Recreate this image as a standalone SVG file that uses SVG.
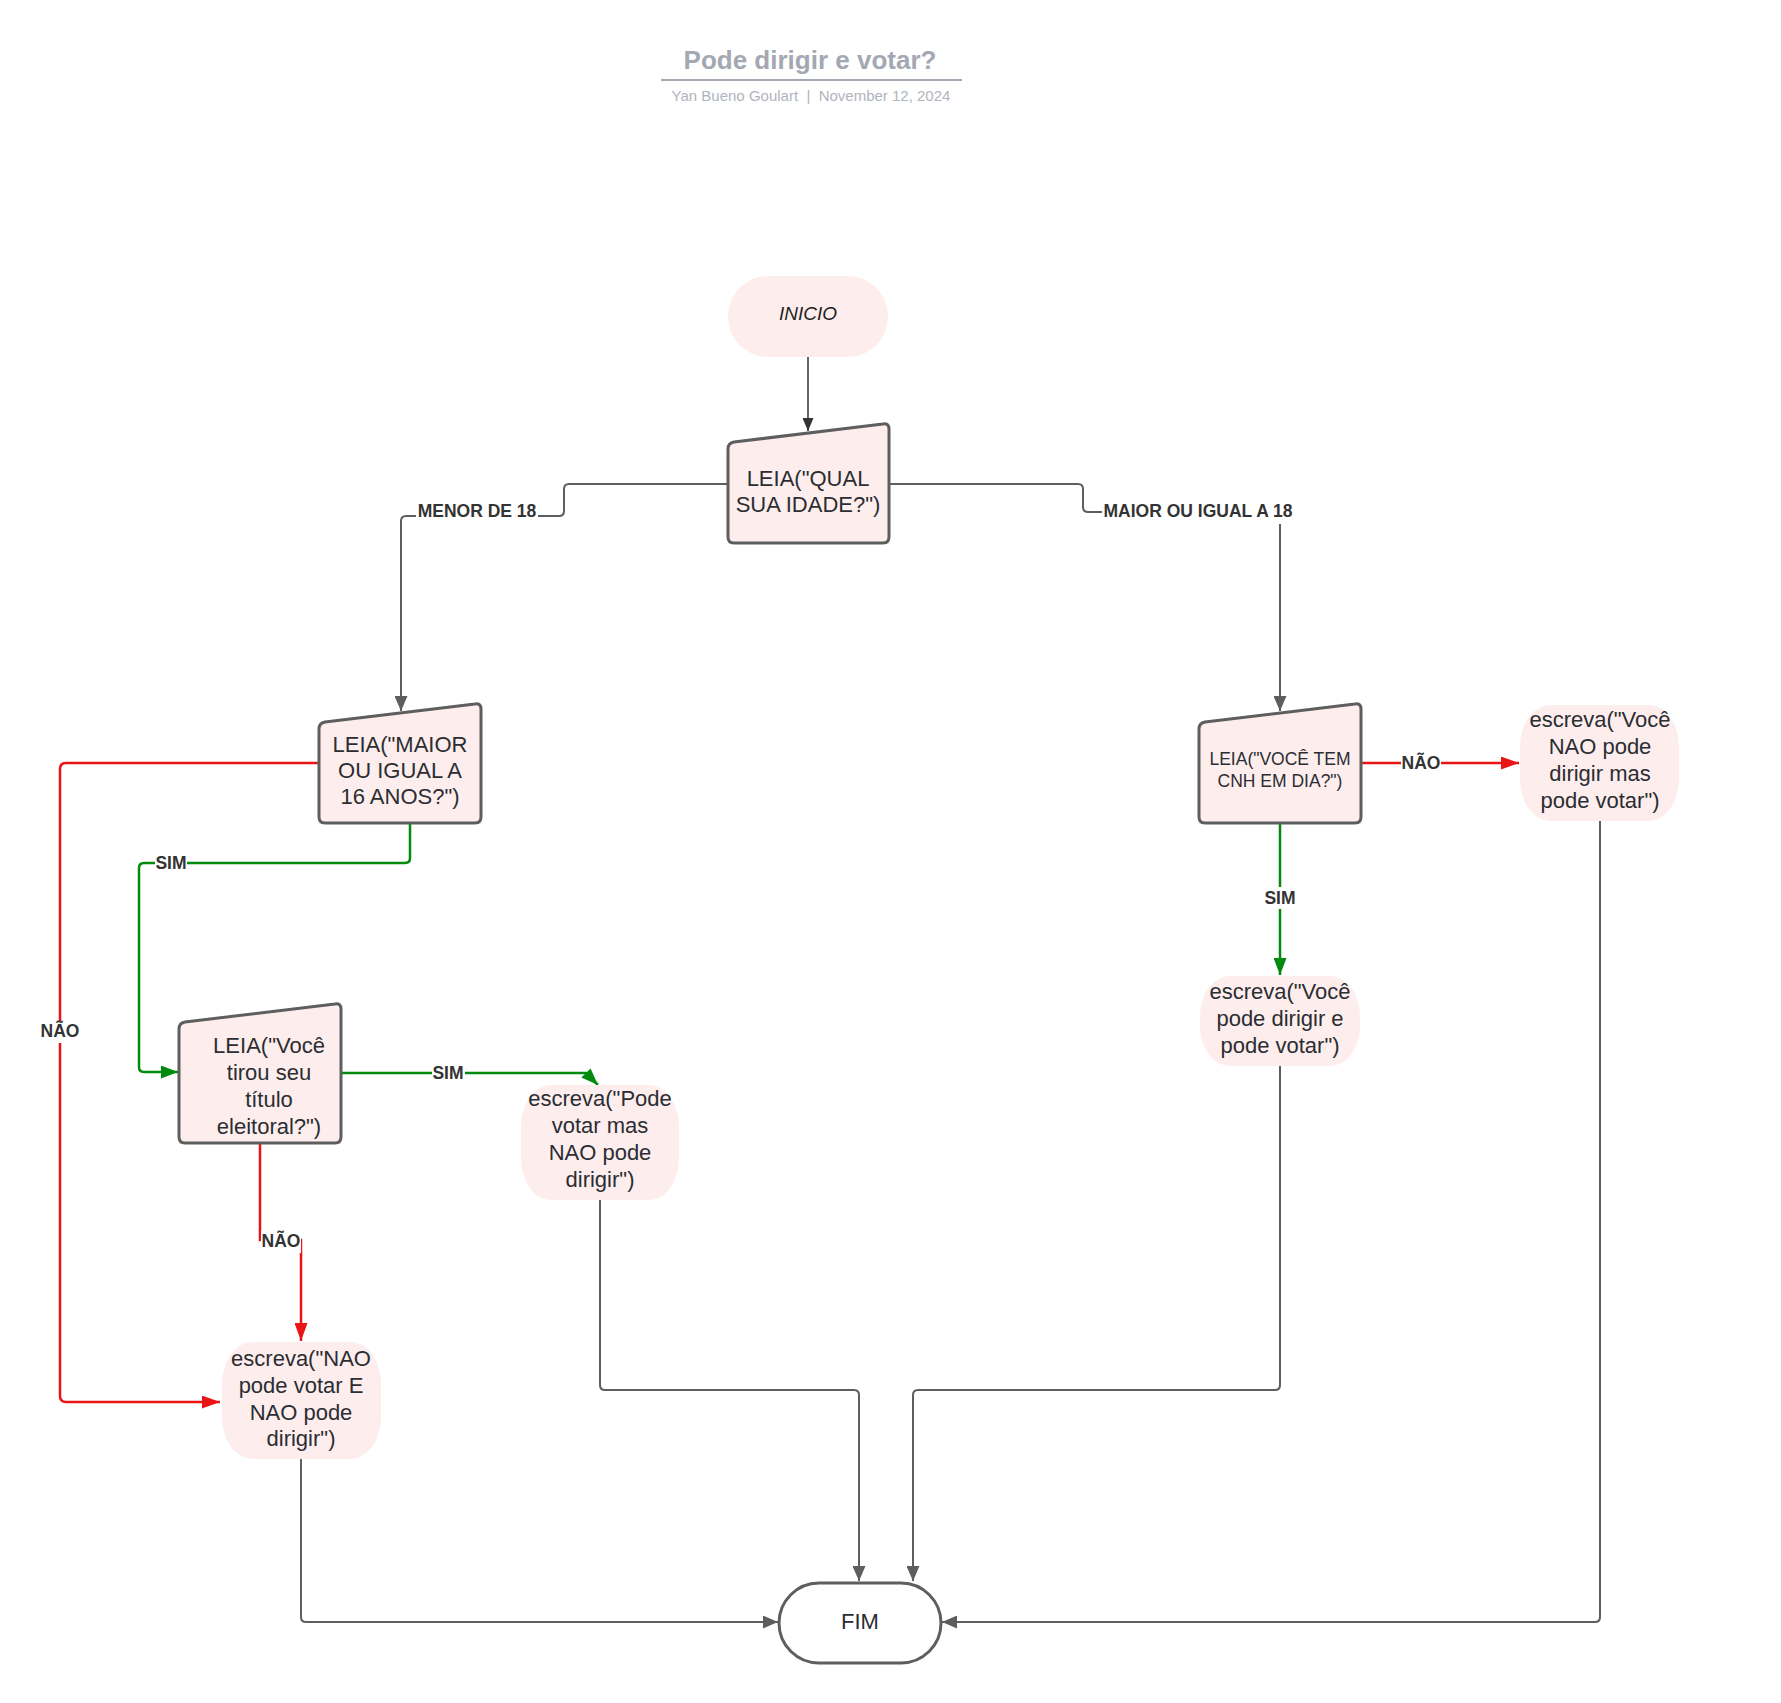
<svg xmlns="http://www.w3.org/2000/svg" width="1781" height="1703" viewBox="0 0 1781 1703">
<style>
.node{fill:#fdeeed;stroke:#5e5e5e;stroke-width:3;}
.soft{fill:#fdeeed;stroke:none;}
.t{font-family:"Liberation Sans",Arial,sans-serif;font-size:22px;fill:#2b2d33;text-anchor:middle;}
.ts{font-family:"Liberation Sans",Arial,sans-serif;font-size:17.5px;fill:#2b2d33;text-anchor:middle;}
.lbl{font-family:"Liberation Sans",Arial,sans-serif;font-size:17.5px;font-weight:bold;fill:#333333;text-anchor:middle;}
.gray{fill:none;stroke:#5e5e5e;stroke-width:2;}
.red{fill:none;stroke:#e81416;stroke-width:2.5;}
.green{fill:none;stroke:#008a0e;stroke-width:2.5;}
.bg{fill:#ffffff;}
</style>
<defs>
<marker id="ag" markerUnits="userSpaceOnUse" markerWidth="16" markerHeight="13" refX="15" refY="6.5" orient="auto"><path d="M0,0 L15,6.5 L0,13 Z" fill="#5e5e5e"/></marker>
<marker id="ad" markerUnits="userSpaceOnUse" markerWidth="14" markerHeight="11" refX="13" refY="5.5" orient="auto"><path d="M0,0 L13,5.5 L0,11 Z" fill="#333333"/></marker>
<marker id="ar" markerUnits="userSpaceOnUse" markerWidth="19" markerHeight="13" refX="18" refY="6.5" orient="auto"><path d="M0,0 L18,6.5 L0,13 Z" fill="#e81416"/></marker>
<marker id="agr" markerUnits="userSpaceOnUse" markerWidth="18" markerHeight="13" refX="17" refY="6.5" orient="auto"><path d="M0,0 L17,6.5 L0,13 Z" fill="#008a0e"/></marker>
</defs>
<rect width="1781" height="1703" fill="#ffffff"/>
<g id="title">
<text x="810" y="69" font-family="'Liberation Sans',Arial,sans-serif" font-size="26" font-weight="bold" fill="#a3a8b3" text-anchor="middle">Pode dirigir e votar?</text>
<line x1="661" y1="80" x2="962" y2="80" stroke="#a3a8b3" stroke-width="2"/>
<text x="811" y="101" font-family="'Liberation Sans',Arial,sans-serif" font-size="15" fill="#b0b4bd" text-anchor="middle" xml:space="preserve">Yan Bueno Goulart  |  November 12, 2024</text>
</g>
<g id="connectors">
<path class="gray" d="M728,484 H569 Q564,484 564,489 V511 Q564,516 559,516 H406 Q401,516 401,521 V711" marker-end="url(#ag)"/>
<path class="gray" d="M889,484 H1078 Q1083,484 1083,489 V507 Q1083,512 1088,512 H1275 Q1280,512 1280,517 V711" marker-end="url(#ag)"/>
<path d="M808,357 V431" fill="none" stroke="#333333" stroke-width="1.5" marker-end="url(#ad)"/>
<path class="red" d="M319,763 H66 Q60,763 60,769 V1396 Q60,1402 66,1402 H220" marker-end="url(#ar)"/>
<path class="green" d="M410,823 V858 Q410,863 405,863 H144 Q139,863 139,868 V1067 Q139,1072 144,1072 H178" marker-end="url(#agr)"/>
<path class="green" d="M341,1073 H586 L598,1085" marker-end="url(#agr)"/>
<path class="red" d="M260,1143 V1240 H301 V1341" marker-end="url(#ar)"/>
<path class="red" d="M1361,763 H1519" marker-end="url(#ar)"/>
<path class="green" d="M1280,823 V975" marker-end="url(#agr)"/>
<path class="gray" d="M301,1459 V1617 Q301,1622 306,1622 H778" marker-end="url(#ag)"/>
<path class="gray" d="M600,1200 V1385 Q600,1390 605,1390 H854 Q859,1390 859,1395 V1581" marker-end="url(#ag)"/>
<path class="gray" d="M1280,1066 V1385 Q1280,1390 1275,1390 H918 Q913,1390 913,1395 V1581" marker-end="url(#ag)"/>
<path class="gray" d="M1600,821 V1617 Q1600,1622 1595,1622 H942" marker-end="url(#ag)"/>
<g id="labels">
<rect class="bg" x="416" y="500" width="122" height="22"/>
<text class="lbl" x="477" y="517">MENOR DE 18</text>
<rect class="bg" x="1102" y="500" width="193" height="24"/>
<text class="lbl" x="1198" y="517" font-size="18">MAIOR OU IGUAL A 18</text>
<rect class="bg" x="42" y="1021" width="36" height="22"/>
<text class="lbl" x="60" y="1037">NÃO</text>
<rect class="bg" x="155" y="853" width="32" height="20"/>
<text class="lbl" x="171" y="869">SIM</text>
<rect class="bg" x="432" y="1063" width="33" height="20"/>
<text class="lbl" x="448" y="1079">SIM</text>
<rect class="bg" x="261" y="1231" width="40" height="22"/>
<text class="lbl" x="281" y="1247">NÃO</text>
<rect class="bg" x="1263" y="887" width="34" height="22"/>
<text class="lbl" x="1280" y="904">SIM</text>
<rect class="bg" x="1401" y="753" width="40" height="20"/>
<text class="lbl" x="1421" y="769">NÃO</text>
</g>
</g>
<g id="inicio">
<rect class="soft" x="728" y="276" width="160" height="81" rx="40" ry="40"/>
<text x="808" y="320" font-family="'Liberation Sans',Arial,sans-serif" font-size="19" font-style="italic" fill="#1f1f1f" text-anchor="middle">INICIO</text>
</g>
<g id="leia-idade">
<path class="node" d="M728,449 Q728,443 734,442 L883,424 Q889,423 889,429 L889,537 Q889,543 883,543 L734,543 Q728,543 728,537 Z"/>
<text class="t" x="808" y="486">LEIA("QUAL</text>
<text class="t" x="808" y="512">SUA IDADE?")</text>
</g>
<g id="leia-16">
<path class="node" d="M319,729 Q319,723 325,722 L475,704 Q481,703 481,709 L481,817 Q481,823 475,823 L325,823 Q319,823 319,817 Z"/>
<text class="t" x="400" y="752">LEIA("MAIOR</text>
<text class="t" x="400" y="778">OU IGUAL A</text>
<text class="t" x="400" y="804">16 ANOS?")</text>
</g>
<g id="leia-cnh">
<path class="node" d="M1199,729 Q1199,723 1205,722 L1355,704 Q1361,703 1361,709 L1361,817 Q1361,823 1355,823 L1205,823 Q1199,823 1199,817 Z"/>
<text class="ts" x="1280" y="765">LEIA("VOCÊ TEM</text>
<text class="ts" x="1280" y="787">CNH EM DIA?")</text>
</g>
<g id="escreva-nao-dirigir-vota">
<rect class="soft" x="1520" y="705" width="159" height="116" rx="30" ry="42"/>
<text class="t" x="1600" y="727">escreva("Você</text>
<text class="t" x="1600" y="754">NAO pode</text>
<text class="t" x="1600" y="781">dirigir mas</text>
<text class="t" x="1600" y="808">pode votar")</text>
</g>
<g id="escreva-pode-ambos">
<rect class="soft" x="1200" y="976" width="160" height="90" rx="30" ry="40"/>
<text class="t" x="1280" y="999">escreva("Você</text>
<text class="t" x="1280" y="1026">pode dirigir e</text>
<text class="t" x="1280" y="1053">pode votar")</text>
</g>
<g id="leia-titulo">
<path class="node" d="M179,1029 Q179,1023 185,1022 L335,1004 Q341,1003 341,1009 L341,1137 Q341,1143 335,1143 L185,1143 Q179,1143 179,1137 Z"/>
<text class="t" x="269" y="1053">LEIA("Você</text>
<text class="t" x="269" y="1080">tirou seu</text>
<text class="t" x="269" y="1107">título</text>
<text class="t" x="269" y="1134">eleitoral?")</text>
</g>
<g id="escreva-vota-nao-dirige">
<rect class="soft" x="521" y="1085" width="158" height="115" rx="30" ry="42"/>
<text class="t" x="600" y="1106">escreva("Pode</text>
<text class="t" x="600" y="1133">votar mas</text>
<text class="t" x="600" y="1160">NAO pode</text>
<text class="t" x="600" y="1187">dirigir")</text>
</g>
<g id="escreva-nao-ambos">
<rect class="soft" x="222" y="1342" width="159" height="117" rx="30" ry="42"/>
<text class="t" x="301" y="1366">escreva("NAO</text>
<text class="t" x="301" y="1393">pode votar E</text>
<text class="t" x="301" y="1420">NAO pode</text>
<text class="t" x="301" y="1446">dirigir")</text>
</g>
<g id="fim">
<rect x="779" y="1583" width="162" height="80" rx="40" ry="40" fill="#ffffff" stroke="#5e5e5e" stroke-width="3"/>
<text class="t" x="860" y="1629">FIM</text>
</g>
</svg>
